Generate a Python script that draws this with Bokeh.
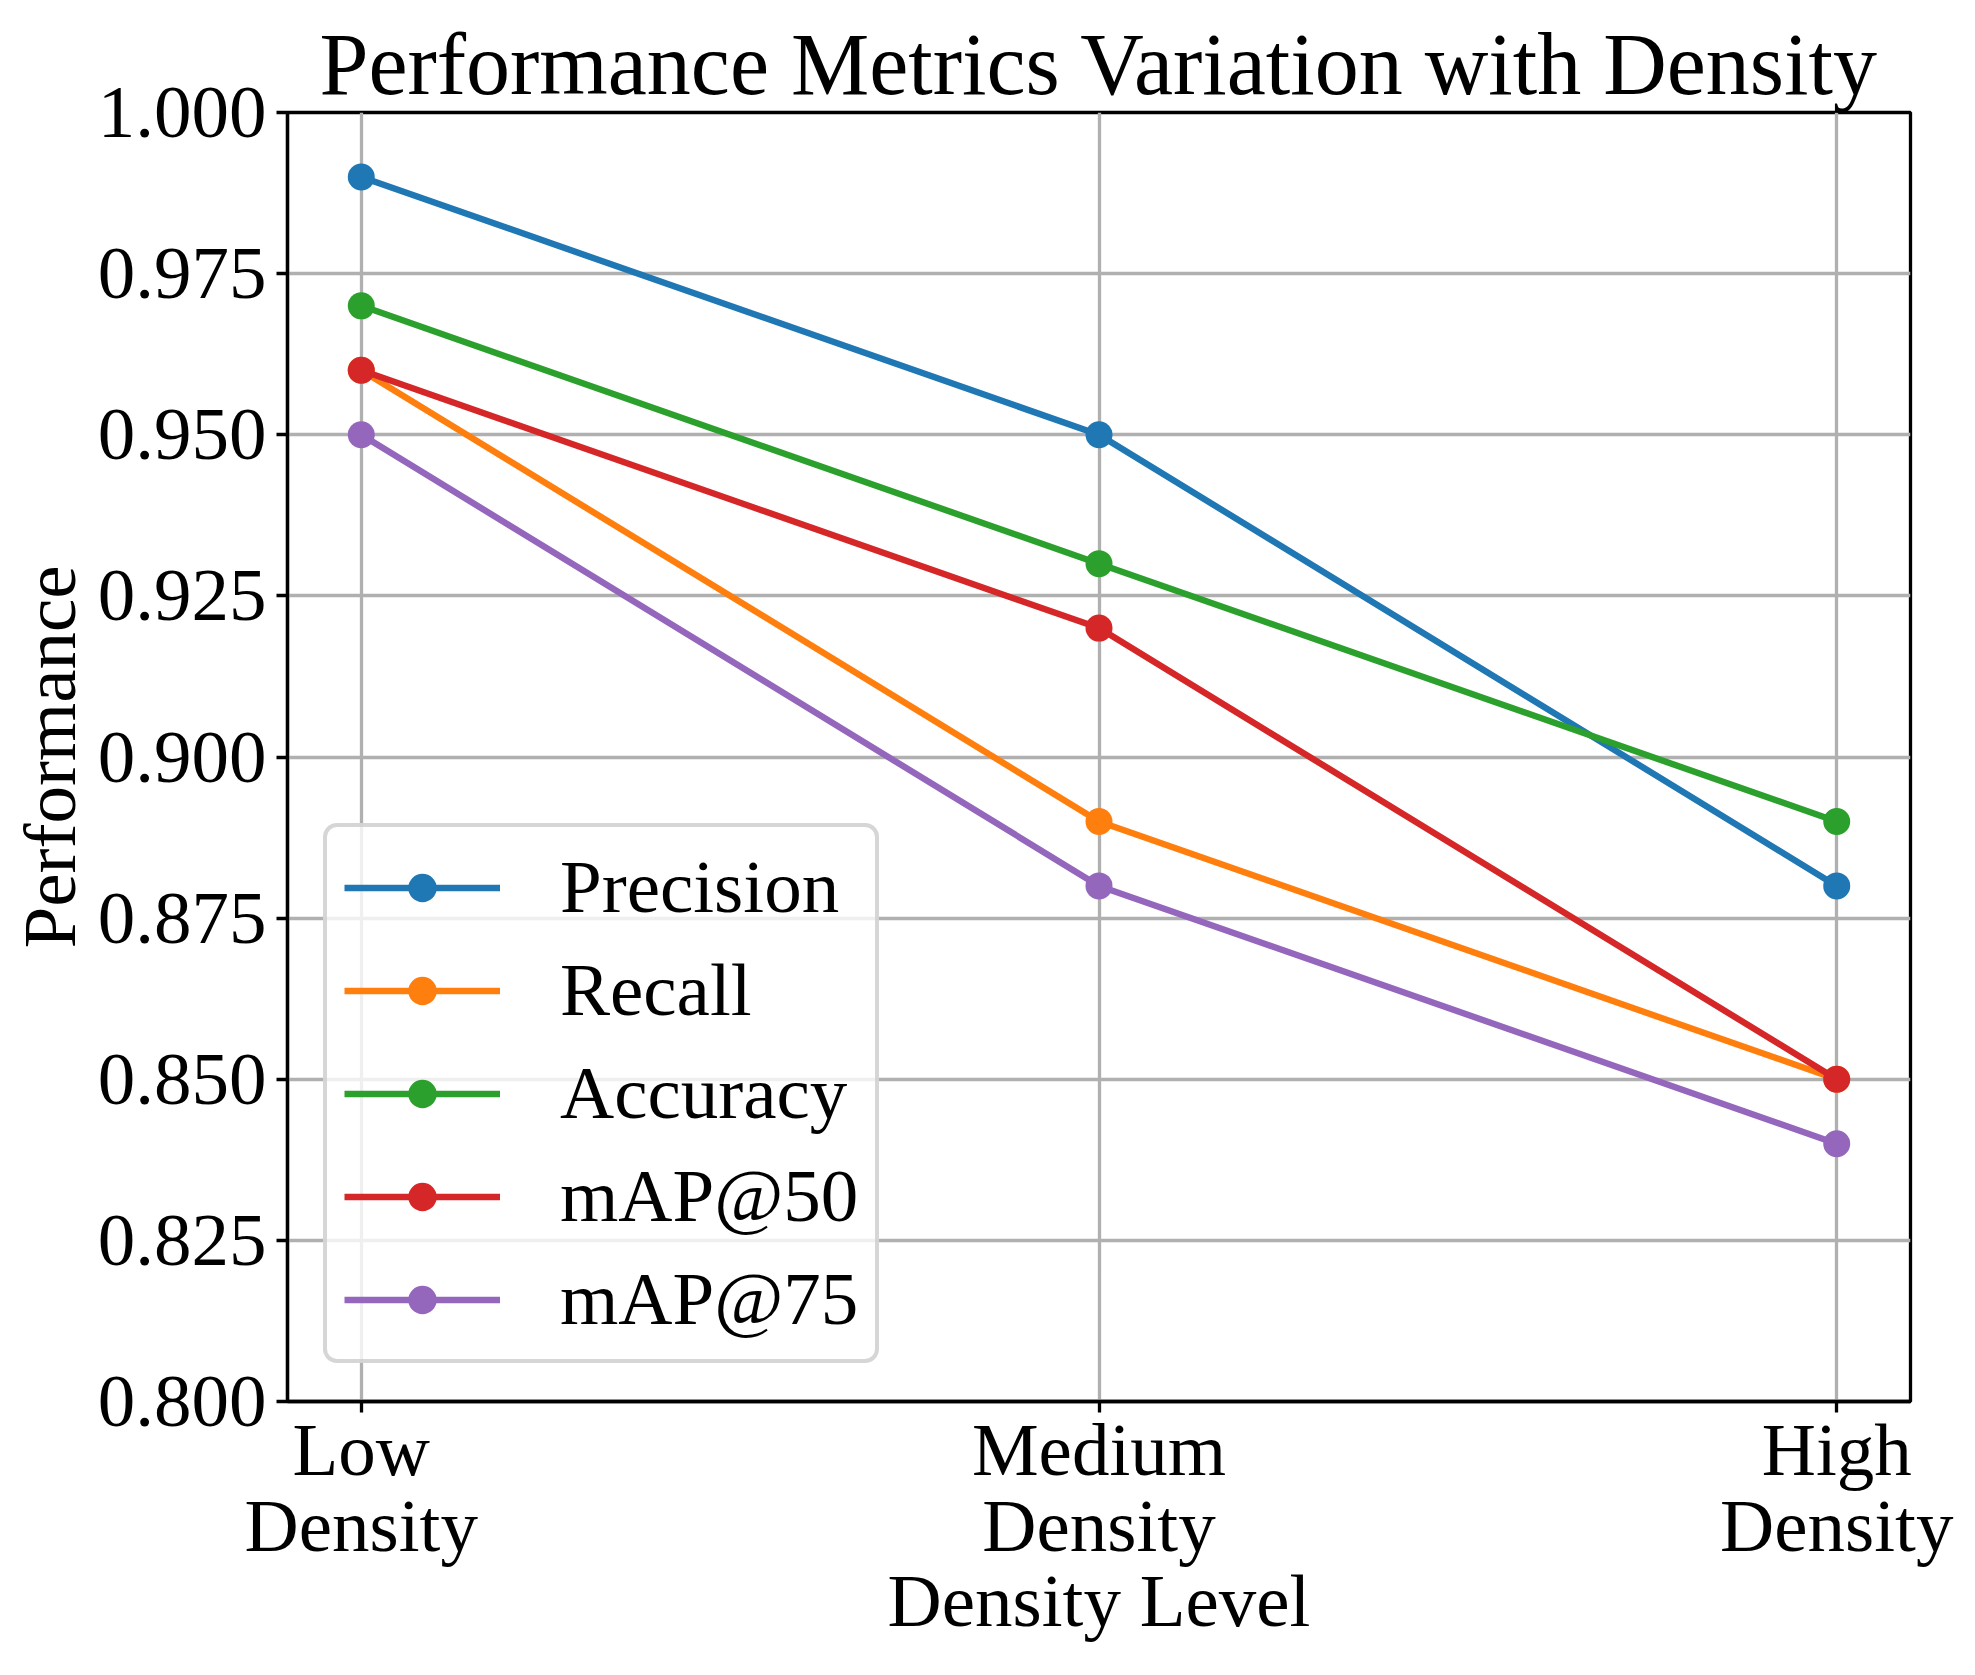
from bokeh.plotting import figure
from bokeh.models import Range1d, FixedTicker, Legend, LegendItem, NumeralTickFormatter
from bokeh.embed import file_html
from bokeh.resources import INLINE

categories = ["Low\nDensity", "Medium\nDensity", "High\nDensity"]
x_pos = [0, 1, 2]
precision = [0.99, 0.95, 0.88]
recall = [0.96, 0.89, 0.85]
accuracy = [0.97, 0.93, 0.89]
map50 = [0.96, 0.92, 0.85]
map75 = [0.95, 0.88, 0.84]
y_ticks = [0.800, 0.825, 0.850, 0.875, 0.900, 0.925, 0.950, 0.975, 1.000]

series = [
    ("Precision", precision, "#1f77b4"),
    ("Recall", recall, "#ff7f0e"),
    ("Accuracy", accuracy, "#2ca02c"),
    ("mAP@50", map50, "#d62728"),
    ("mAP@75", map75, "#9467bd"),
]

FONT = "Liberation Serif"

p = figure(frame_width=1623, frame_height=1289, output_backend="svg", toolbar_location=None,
           x_range=Range1d(-0.1, 2.1), y_range=Range1d(0.8, 1.0),
           min_border_left=287, min_border_right=49, min_border_top=112, min_border_bottom=250)

p.title.text = "Performance Metrics Variation with Density"
p.title.text_font = FONT
p.title.text_font_size = "88px"
p.title.text_font_style = "normal"
p.title.align = "center"
p.title.text_color = "black"
p.title.standoff = 0

p.outline_line_color = "black"
p.outline_line_width = 3.3
p.outline_line_alpha = 1.0

for ax in (p.xaxis[0], p.yaxis[0]):
    ax.axis_line_width = 3.3
    ax.axis_line_color = "black"
    ax.major_tick_line_width = 3.3
    ax.major_tick_line_color = "black"
    ax.major_tick_out = 11
    ax.major_tick_in = 0
    ax.minor_tick_out = 0
    ax.minor_tick_in = 0
    ax.major_label_text_font = FONT
    ax.major_label_text_font_size = "75px"
    ax.major_label_text_color = "black"
    ax.axis_label_text_font = FONT
    ax.axis_label_text_font_size = "75px"
    ax.axis_label_text_font_style = "normal"
    ax.axis_label_text_color = "black"

p.xaxis.ticker = FixedTicker(ticks=x_pos)
p.xaxis.major_label_overrides = {x: c for x, c in zip(x_pos, categories)}
p.xaxis.major_label_text_line_height = 0.92
p.xaxis.major_label_standoff = -5
p.xaxis.axis_label = "Density Level"
p.xaxis.axis_label_standoff = -11

p.yaxis.ticker = FixedTicker(ticks=y_ticks)
p.yaxis.formatter = NumeralTickFormatter(format="0.000")
p.yaxis.major_label_standoff = 10
p.yaxis.axis_label = "Performance"
p.yaxis.axis_label_standoff = 4

for g in (p.xgrid[0], p.ygrid[0]):
    g.grid_line_color = "#b0b0b0"
    g.grid_line_width = 3.3
p.xgrid.ticker = FixedTicker(ticks=x_pos)
p.ygrid.ticker = FixedTicker(ticks=y_ticks)

items = []
for name, vals, color in series:
    lr = p.line(x_pos, vals, line_color=color, line_width=6.4)
    sr = p.scatter(x_pos, vals, size=27, fill_color=color, line_color=color, line_width=0)
    items.append(LegendItem(label=name, renderers=[lr, sr]))

legend = Legend(items=items, location=(36, 38))
legend.label_text_font = FONT
legend.label_text_font_size = "75px"
legend.label_text_color = "black"
legend.label_height = 71
legend.glyph_height = 71
legend.glyph_width = 156
legend.label_standoff = 60
legend.spacing = 17
legend.padding = 17
legend.margin = 0
legend.border_line_color = "#cccccc"
legend.border_line_width = 4
legend.border_line_alpha = 0.8
legend.background_fill_color = "white"
legend.background_fill_alpha = 0.8
try:
    legend.border_radius = 14
except Exception:
    pass
p.add_layout(legend, "center")

open("out.html", "w").write(file_html(p, INLINE))
